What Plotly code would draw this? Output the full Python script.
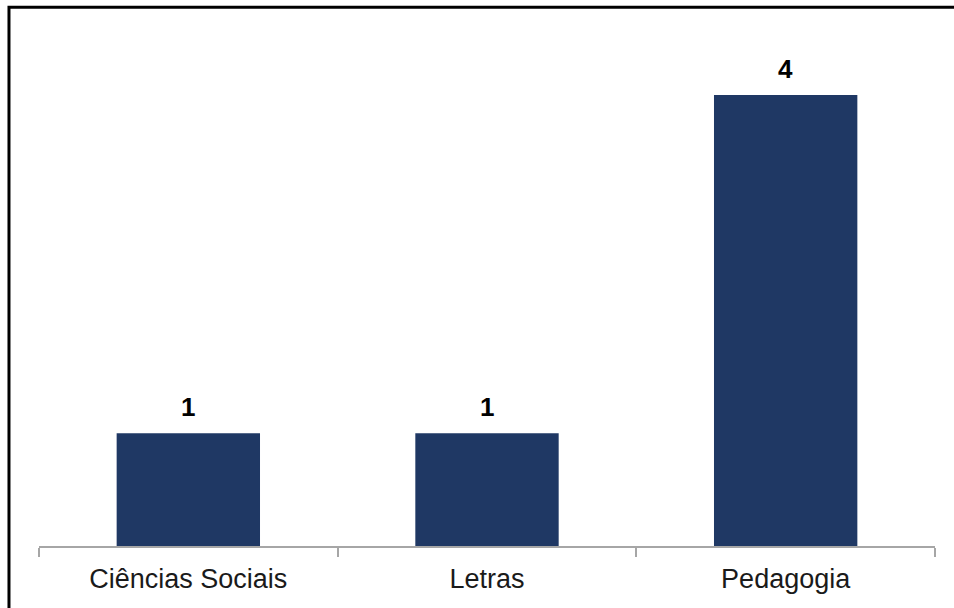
import plotly.graph_objects as go

categories = ["Ciências Sociais", "Letras", "Pedagogia"]
values = [1, 1, 4]

fig = go.Figure(go.Bar(
    x=categories, y=values,
    marker=dict(color="#1F3864", line=dict(width=0)),
    width=0.48,
    cliponaxis=False,
))

for c, v in zip(categories, values):
    fig.add_annotation(x=c, y=v, text=str(v), showarrow=False,
                       yanchor="bottom", yshift=9,
                       font=dict(family="Liberation Sans, Arial", size=26, color="black", weight="bold"))

fig.update_layout(
    width=954, height=608,
    margin=dict(l=39, r=19, t=50, b=62),
    paper_bgcolor="white", plot_bgcolor="white",
    showlegend=False,
    font=dict(family="Liberation Sans, Arial", color="#1a1a1a"),
    xaxis=dict(
        showline=True, linecolor="#a6a6a6", linewidth=2,
        ticks="outside", tickson="boundaries", ticklen=9, tickcolor="#a6a6a6", tickwidth=2,
        tickfont=dict(family="Liberation Sans, Arial", size=27, color="#1a1a1a"),
        ticklabelstandoff=8,
        showgrid=False,
    ),
    yaxis=dict(range=[0, 4.4], visible=False, showgrid=False),
    shapes=[dict(type="rect", xref="paper", yref="paper",
                 x0=-0.0335, x1=1.1, y0=-0.2, y1=1.086,
                 line=dict(color="black", width=3), fillcolor="rgba(0,0,0,0)", layer="above")],
)

fig.write_html("out.html", config={"displayModeBar": False},
               post_script="document.body.style.margin='0';")
